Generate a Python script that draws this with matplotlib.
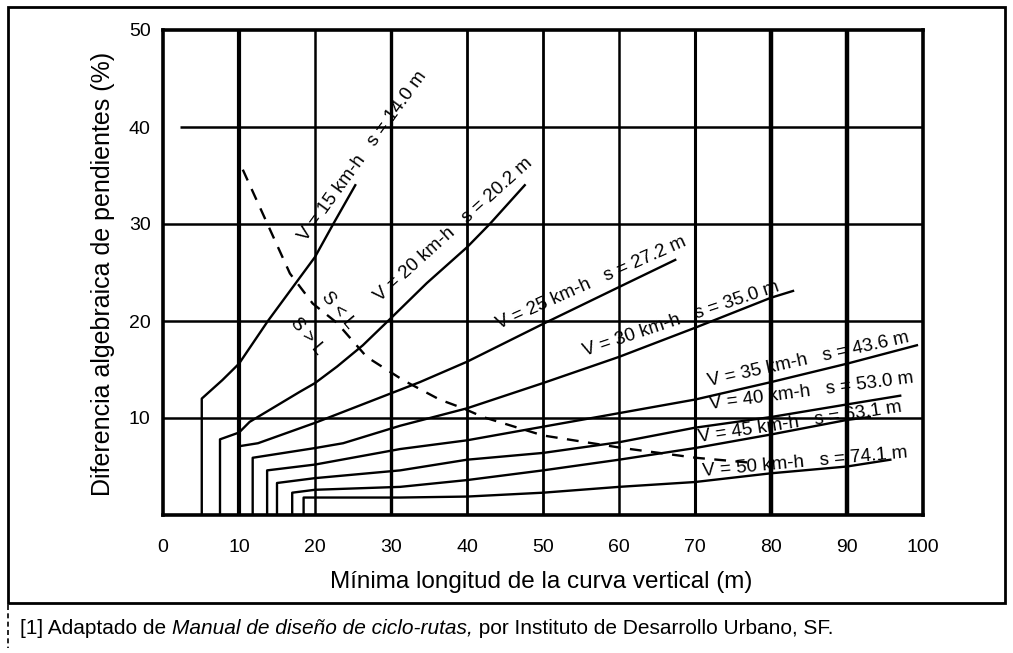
import matplotlib
matplotlib.use("Agg")
import matplotlib.pyplot as plt
from matplotlib.patches import Rectangle
from matplotlib.lines import Line2D

plt.rcParams['font.family'] = ['Liberation Sans', 'DejaVu Sans']

# -------------------------
# Data (x = longitud m, y = diferencia %)
# -------------------------
x_v15 = [5.1, 5.1, 7.8, 10, 13.8, 20, 22.4, 25.3]
y_v15 = [0, 12.0, 13.9, 15.6, 20, 26.6, 30, 34.0]

x_v20 = [7.5, 7.5, 10, 11.4, 18, 20, 22.9, 26.3, 30, 34.7, 40, 43, 47.6]
y_v20 = [0, 7.8, 8.5, 9.6, 12.7, 13.6, 15.3, 17.5, 20.3, 23.9, 27.6, 30, 34.0]

x_v25 = [10.1, 10.1, 12.5, 20, 33.8, 40, 50, 60, 67.4]
y_v25 = [0, 7.1, 7.4, 9.5, 13.7, 15.8, 19.7, 23.5, 26.3]

x_v30 = [11.8, 11.8, 20, 23.7, 31.2, 40, 50, 60, 70, 80, 82.9]
y_v30 = [0, 5.9, 6.9, 7.4, 9.2, 11.0, 13.6, 16.3, 19.3, 22.4, 23.1]

x_v35 = [13.7, 13.7, 20, 31.2, 40, 50, 60, 70, 80, 90, 99.2]
y_v35 = [0, 4.6, 5.2, 6.8, 7.7, 9.1, 10.5, 11.9, 13.7, 15.6, 17.5]

x_v40 = [15.0, 15.0, 20, 31.2, 40, 50, 60, 70, 80, 90, 97]
y_v40 = [0, 3.3, 3.8, 4.6, 5.7, 6.4, 7.5, 9.0, 10.1, 11.4, 12.3]

x_v45 = [17.0, 17.0, 20, 31.2, 40, 50, 60, 70, 80, 90, 93]
y_v45 = [0, 2.3, 2.6, 2.9, 3.6, 4.6, 5.7, 6.9, 8.3, 9.8, 10.1]

x_v50 = [18.5, 18.5, 20, 31.2, 40, 50, 60, 70, 80, 90, 95.7]
y_v50 = [0, 1.8, 1.8, 1.8, 1.9, 2.3, 2.9, 3.4, 4.3, 5.0, 5.7]

# S = L boundary (dashed)
x_sl = [10.5, 16.7, 19.7, 22.9, 26.8, 31.6, 36.4, 39.5, 42.1, 50, 60.5, 70.1, 77.2]
y_sl = [35.6, 24.9, 21.8, 19.8, 16.3, 13.9, 11.9, 11.0, 10.1, 8.2, 6.9, 5.9, 5.4]

curves = [(x_v15, y_v15), (x_v20, y_v20), (x_v25, y_v25), (x_v30, y_v30),
          (x_v35, y_v35), (x_v40, y_v40), (x_v45, y_v45), (x_v50, y_v50)]

labels = ["V = 15 km-h   s = 14.0 m", "V = 20 km-h   s = 20.2 m",
          "V = 25 km-h   s = 27.2 m", "V = 30 km-h   s = 35.0 m",
          "V = 35 km-h   s = 43.6 m", "V = 40 km-h   s = 53.0 m",
          "V = 45 km-h   s = 63.1 m", "V = 50 km-h   s = 74.1 m"]
label_x = [26.3, 38.2, 56.4, 68.2, 84.9, 85.3, 83.8, 84.5]
label_y = [37.0, 29.4, 23.9, 20.2, 16.0, 12.8, 9.5, 5.4]
label_rot = [54, 42, 24, 18.5, 12.4, 7.4, 8.5, 5.2]

x_ticks = [0, 10, 20, 30, 40, 50, 60, 70, 80, 90, 100]
y_ticks = [10, 20, 30, 40, 50]

# -------------------------
# Figure
# -------------------------
W, H = 1013, 653
fig = plt.figure(figsize=(W / 100, H / 100), dpi=100)
ax = fig.add_axes([163 / W, 1 - 515 / H, (923 - 163) / W, (515 - 30) / H])
ax.set_xlim(0, 100)
ax.set_ylim(0, 50)

# grid drawn as plain lines, some heavier like the scanned chart
vlw = {10: 3.0, 20: 1.8, 30: 2.4, 40: 2.0, 50: 2.0, 60: 1.8, 70: 2.2, 80: 3.2, 90: 3.2}
for xv, lw in vlw.items():
    ax.axvline(xv, color='black', lw=lw, zorder=1)
for yv in [10, 20, 30]:
    ax.axhline(yv, color='black', lw=1.8, zorder=1)
ax.hlines(40, 2.3, 100, color='black', lw=1.8, zorder=1)

for (xs, ys) in curves:
    ax.plot(xs, ys, color='black', lw=1.7, zorder=3)

ax.plot(x_sl, y_sl, color='black', lw=1.7, ls=(0, (5, 4)), zorder=3)

for txt, lx, ly, rot in zip(labels, label_x, label_y, label_rot):
    ax.text(lx, ly, txt, rotation=rot, rotation_mode='anchor', ha='center',
            va='center', fontsize=13.5, zorder=4)

ax.text(19.0, 18.4, "S > L", rotation=-50, rotation_mode='anchor', ha='center',
        va='center', fontsize=13, zorder=4)
ax.text(23.0, 21.1, "S < L", rotation=-50, rotation_mode='anchor', ha='center',
        va='center', fontsize=13, zorder=4)

for sp in ax.spines.values():
    sp.set_linewidth(2.6)

ax.set_xticks(x_ticks)
ax.set_xticklabels([str(v) for v in x_ticks], fontsize=14)
ax.set_yticks(y_ticks)
ax.set_yticklabels([str(v) for v in y_ticks], fontsize=14)
ax.tick_params(axis='x', length=0, pad=17)
ax.tick_params(axis='y', length=0, pad=9)

fig.text(103 / W, 1 - 274 / H, "Diferencia algebraica de pendientes (%)", rotation=90,
         ha='center', va='center', fontsize=18)
fig.text(541 / W, 1 - 582 / H, "Mínima longitud de la curva vertical (m)",
         ha='center', va='center', fontsize=17.5)

# outer frame and caption
fig.patches.append(Rectangle((8 / W, 1 - 603 / H), (1005 - 8) / W, (603 - 7) / H,
                             transform=fig.transFigure, fill=False, lw=2, color='black'))
fig.lines.append(Line2D([8 / W, 8 / W], [1 - 605 / H, 1 - 648 / H], transform=fig.transFigure,
                        color='black', lw=1.2, ls=(0, (3, 2))))

t1 = fig.text(20 / W, 1 - 628 / H, "[1] Adaptado de ", fontsize=15, va='center')
t2 = ax.annotate("Manual de diseño de ciclo-rutas,", xy=(1, 0), xycoords=t1,
                 va='bottom', fontsize=15, style='italic', annotation_clip=False)
t3 = ax.annotate(" por Instituto de Desarrollo Urbano, SF.", xy=(1, 0), xycoords=t2,
                 va='bottom', fontsize=15, annotation_clip=False)

fig.savefig("out.png", dpi=100)
